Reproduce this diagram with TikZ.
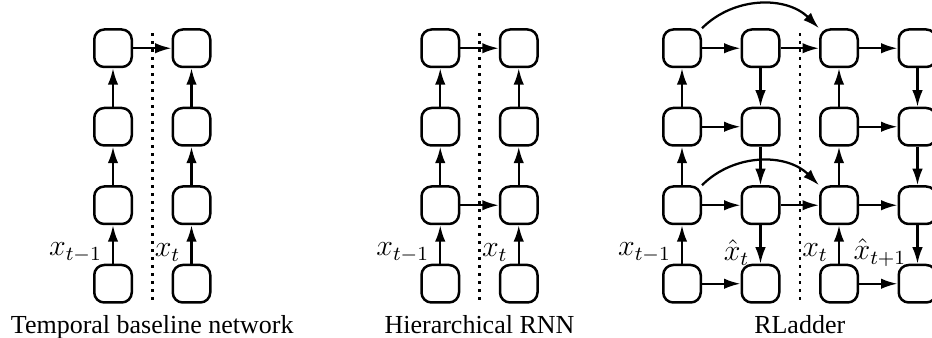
\documentclass[tikz,border=0pt]{standalone}
\usepackage{fontspec}
\setmainfont{Liberation Serif}
\usetikzlibrary{positioning, arrows.meta}

\begin{document}
\begin{tikzpicture}[node distance = 15.4pt, line width=1pt,
	cell/.style = { rectangle, draw=black, rounded corners=4pt,
	minimum size=15pt, inner sep=0pt },
	arr/.style = { line width=0.9pt, -{Latex[length=6.6pt, width=4.2pt]} },
	sep/.style = { dash pattern=on 1pt off 2.2pt },
	lbl/.style = { left, inner sep=4pt, yshift=-3.2pt,
	font=\fontsize{11.5}{13}\selectfont },
	caption/.style = { font=\fontsize{10.4}{12}\selectfont } ]

  \useasboundingbox (0,0) rectangle (372.8pt,135.2pt);
  \clip (0,0) rectangle (372.8pt,135.2pt);

  \node [name=tpa4, cell] at (45.2pt,21.7pt) {};
  \node [name=tpa3, cell, above=of tpa4] {};
  \node [name=tpa2, cell, above=of tpa3] {};
  \node [name=tpa1, cell, above=of tpa2] {};
  \node [name=tpb4, cell, right=of tpa4] {};
  \node [name=tpb3, cell, right=of tpa3] {};
  \node [name=tpb2, cell, right=of tpa2] {};
  \node [name=tpb1, cell, right=of tpa1] {};
  \draw [arr] (tpa4) -- node [lbl] {$x_{t-1}$} (tpa3);
  \draw [arr] (tpa3) -- (tpa2);
  \draw [arr] (tpa2) -- (tpa1);
  \draw [arr] (tpb4) -- node [lbl] {$x_t$} (tpb3);
  \draw [arr] (tpb3) -- (tpb2);
  \draw [arr] (tpb2) -- (tpb1);
  \draw [arr] (tpa1) -- (tpb1);
  \path (tpa4.south) -- (tpb4.south) coordinate [midway] (tpsep);
  \path (tpa1.north) -- (tpb1.north) coordinate [midway] (tptop);
  \draw [sep] ([yshift=-2pt]tptop) -- (tpsep);
  \node [caption, below=1pt of tpsep] {Temporal baseline network};

  \node [name=hra4, cell] at (176.1pt,21.7pt) {};
  \node [name=hra3, cell, above=of hra4] {};
  \node [name=hra2, cell, above=of hra3] {};
  \node [name=hra1, cell, above=of hra2] {};
  \node [name=hrb4, cell, right=of hra4] {};
  \node [name=hrb3, cell, right=of hra3] {};
  \node [name=hrb2, cell, right=of hra2] {};
  \node [name=hrb1, cell, right=of hra1] {};
  \draw [arr] (hra4) -- node [lbl] {$x_{t-1}$} (hra3);
  \draw [arr] (hra3) -- (hra2);
  \draw [arr] (hra2) -- (hra1);
  \draw [arr] (hrb4) -- node [lbl] {$x_t$} (hrb3);
  \draw [arr] (hrb3) -- (hrb2);
  \draw [arr] (hrb2) -- (hrb1);
  \draw [arr] (hra1) -- (hrb1);
  \draw [arr] (hra3) -- (hrb3);
  \path (hra4.south) -- (hrb4.south) coordinate [midway] (hrsep);
  \path (hra1.north) -- (hrb1.north) coordinate [midway] (hrtop);
  \draw [sep] ([yshift=-2pt]hrtop) -- (hrsep);
  \node [caption, below=1pt of hrsep] {Hierarchical RNN};

  \node [name=rla4, cell] at (272.8pt,21.7pt) {};
  \node [name=rla3, cell, above=of rla4] {};
  \node [name=rla2, cell, above=of rla3] {};
  \node [name=rla1, cell, above=of rla2] {};
  \node [name=rlb4, cell, right=of rla4] {};
  \node [name=rlb3, cell, right=of rla3] {};
  \node [name=rlb2, cell, right=of rla2] {};
  \node [name=rlb1, cell, right=of rla1] {};
  \node [name=rlc4, cell, right=of rlb4] {};
  \node [name=rlc3, cell, right=of rlb3] {};
  \node [name=rlc2, cell, right=of rlb2] {};
  \node [name=rlc1, cell, right=of rlb1] {};
  \node [name=rld4, cell, right=of rlc4] {};
  \node [name=rld3, cell, right=of rlc3] {};
  \node [name=rld2, cell, right=of rlc2] {};
  \node [name=rld1, cell, right=of rlc1] {};
  \draw [arr] (rla4) -- node [lbl] {$x_{t-1}$} (rla3);
  \draw [arr] (rla3) -- (rla2);
  \draw [arr] (rla2) -- (rla1);
  \draw [arr] (rlb1) -- (rlb2);
  \draw [arr] (rlb2) -- (rlb3);
  \draw [arr] (rlb3) -- node [lbl] {$\hat{x}_t$} (rlb4);
  \draw [arr] (rlc4) -- node [lbl] {$x_t$} (rlc3);
  \draw [arr] (rlc3) -- (rlc2);
  \draw [arr] (rlc2) -- (rlc1);
  \draw [arr] (rld1) -- (rld2);
  \draw [arr] (rld2) -- (rld3);
  \draw [arr] (rld3) -- node [lbl] {$\hat{x}_{t+1}$} (rld4);
  \draw [arr] (rla1) -- (rlb1);
  \draw [arr] (rla2) -- (rlb2);
  \draw [arr] (rla3) -- (rlb3);
  \draw [arr] (rla4) -- (rlb4);
  \draw [arr] (rlb1) -- (rlc1);
  \draw [arr] (rlb3) -- (rlc3);
  \draw [arr] (rlc1) -- (rld1);
  \draw [arr] (rlc2) -- (rld2);
  \draw [arr] (rlc3) -- (rld3);
  \draw [arr] (rlc4) -- (rld4);
  \draw [arr] (rla1.north east) to [bend left=45] (rlc1.north west);
  \draw [arr] (rla3.north east) to [bend left=45] (rlc3.north west);
  \path (rlb4.south) -- (rlc4.south) coordinate [midway] (rlsep);
  \path (rlb1.north) -- (rlc1.north) coordinate [midway] (rltop);
  \draw [sep] ([yshift=-2pt]rltop) -- (rlsep);
  \node [caption, below=1pt of rlsep] {RLadder};
\end{tikzpicture}
\end{document}
